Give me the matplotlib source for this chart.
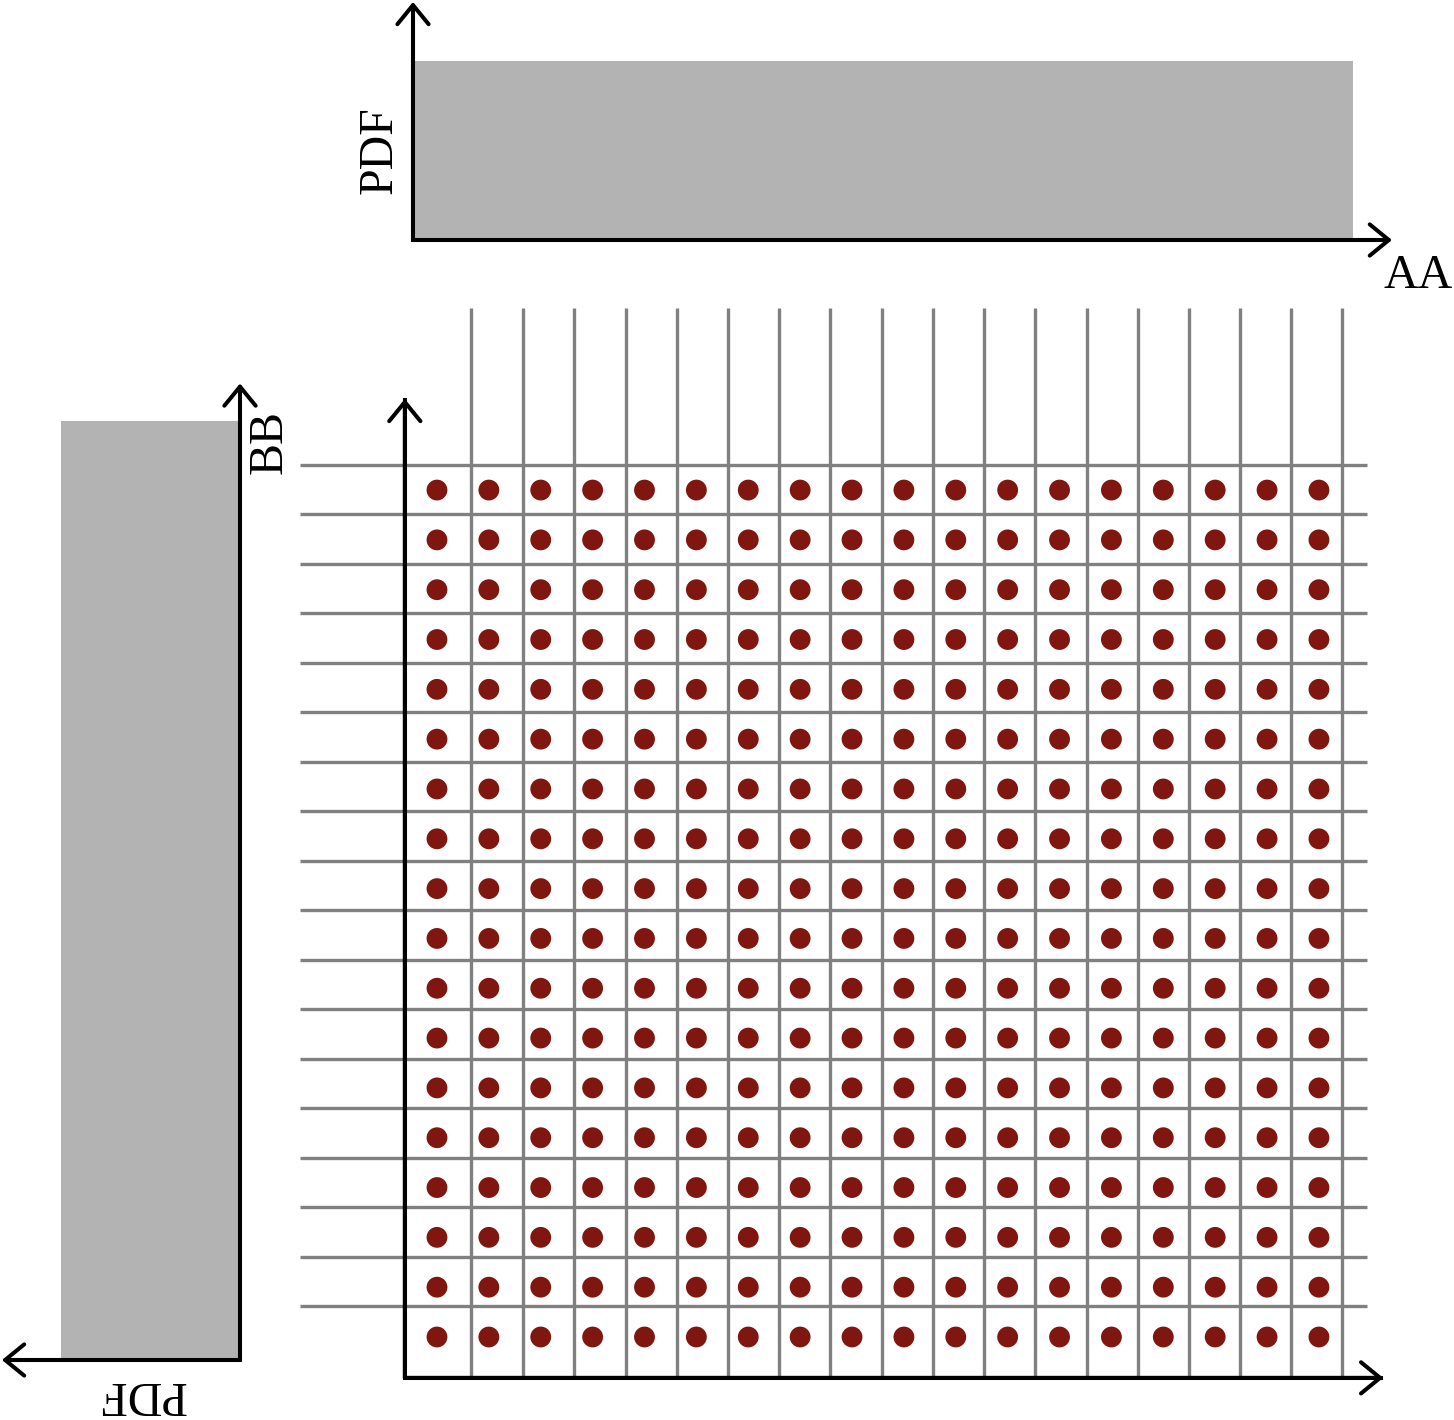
import numpy as np
import matplotlib
matplotlib.use("Agg")
import matplotlib.pyplot as plt

plt.rcParams['font.family'] = ['Liberation Serif', 'DejaVu Serif']

# sample points (index units, both directions)
dot_x = list(range(1, 19))
dot_y = list(range(1, 19))

# grid lines in the same units
grid_x = [1.66, 2.66, 3.64, 4.64, 5.63, 6.61, 7.59, 8.58, 9.58,
          10.56, 11.54, 12.53, 13.53, 14.51, 15.49, 16.48, 17.46, 18.44]
grid_y = [1.62, 2.61, 3.61, 4.59, 5.60, 6.58, 7.58, 8.57, 9.57,
          10.55, 11.56, 12.54, 13.55, 14.53, 15.53, 16.52, 17.52, 18.50]

# marginal pdfs (uniform on [0, 1])
aa_edges = [0.0, 1.0]
aa_pdf = [1.0]
bb_edges = [0.0, 1.0]
bb_pdf = [1.0]

W, H = 1454, 1420
fig = plt.figure(figsize=(W / 100, H / 100), dpi=100)

GRAY = '#b3b3b3'
GRID = '#808080'
DOT = '#7f1610'
LW = 2.9
FS = 34.5


def px_axes(x0, x1, y0, y1):
    # pixel box (top-left origin) -> figure fraction axes
    return fig.add_axes([x0 / W, 1 - y1 / H, (x1 - x0) / W, (y1 - y0) / H])


def arrow(ax, start, tip):
    ax.annotate("", xy=tip, xytext=start,
                arrowprops=dict(arrowstyle='->, head_length=0.55, head_width=0.45',
                                lw=LW, color='k', mutation_scale=25,
                                shrinkA=0, shrinkB=0),
                annotation_clip=False, zorder=5)


# ---- main grid panel ----
ux, uy = 51.88, 49.82  # px per unit
ax = px_axes(385.1 - 2 * ux, 385.1 + 19.5 * ux, 1337 - 21 * uy, 1337 + 1.25 * uy)
ax.set_xlim(-2, 19.5)
ax.set_ylim(-0.25, 22)
ax.set_axis_off()
x0, y0 = 0.38, 0.18
ax.vlines(grid_x, y0, 21.65, color=GRID, lw=2.4, zorder=1)
ax.hlines(grid_y, -1.64, 18.92, color=GRID, lw=2.4, zorder=1)
gx, gy = np.meshgrid(dot_x, dot_y)
ax.scatter(gx.ravel(), gy.ravel(), s=15 ** 2, color=DOT, edgecolors='none', zorder=3)
ax.plot([x0, x0, 19.2], [19.8, y0, y0], color='k', lw=LW, solid_joinstyle='miter', zorder=4)
arrow(ax, (x0, y0), (19.24, y0))
arrow(ax, (x0, y0), (x0, 19.83))

# ---- top marginal (AA) ----
sx, sy = 940, 179
axt = px_axes(413 - 0.1 * sx, 413 + 1.1 * sx, 240 - 1.34 * sy, 240 + 0.05 * sy)
axt.set_xlim(-0.1, 1.1)
axt.set_ylim(-0.05, 1.34)
axt.set_axis_off()
axt.bar(aa_edges[:-1], aa_pdf, width=np.diff(aa_edges), align='edge', color=GRAY, zorder=1)
axt.plot([0, 0, 1.03], [1.3, 0, 0], color='k', lw=LW, solid_joinstyle='miter', zorder=4)
arrow(axt, (0, 0), (1.0415, 0))
arrow(axt, (0, 0), (0, 1.33))
axt.text(1.069, -0.27, 'AA', fontsize=FS, ha='center', va='baseline', clip_on=False)
axt.text(-0.036, 0.503, 'PDF', fontsize=FS, rotation=90, ha='center', va='center', clip_on=False)

# ---- left marginal (BB) ----
lx, ly = 179, 939
axl = px_axes(240 - 1.35 * lx, 240 + 0.05 * lx, 1360 - 1.05 * ly, 1360 + 0.05 * ly)
axl.set_xlim(1.35, -0.05)
axl.set_ylim(-0.05, 1.05)
axl.set_axis_off()
axl.barh(bb_edges[:-1], bb_pdf, height=np.diff(bb_edges), align='edge', color=GRAY, zorder=1)
axl.plot([0, 0, 1.3], [1.02, 0, 0], color='k', lw=LW, solid_joinstyle='miter', zorder=4)
arrow(axl, (0, 0), (1.33, 0))
arrow(axl, (0, 0), (0, 1.04))
axl.text(-0.165, 0.978, 'BB', fontsize=FS, rotation=90, ha='center', va='center', clip_on=False)
axl.text(0.547, -0.036, 'PDF', fontsize=FS, rotation=180, ha='center', va='center', clip_on=False)

fig.savefig('out.png', dpi=100)
